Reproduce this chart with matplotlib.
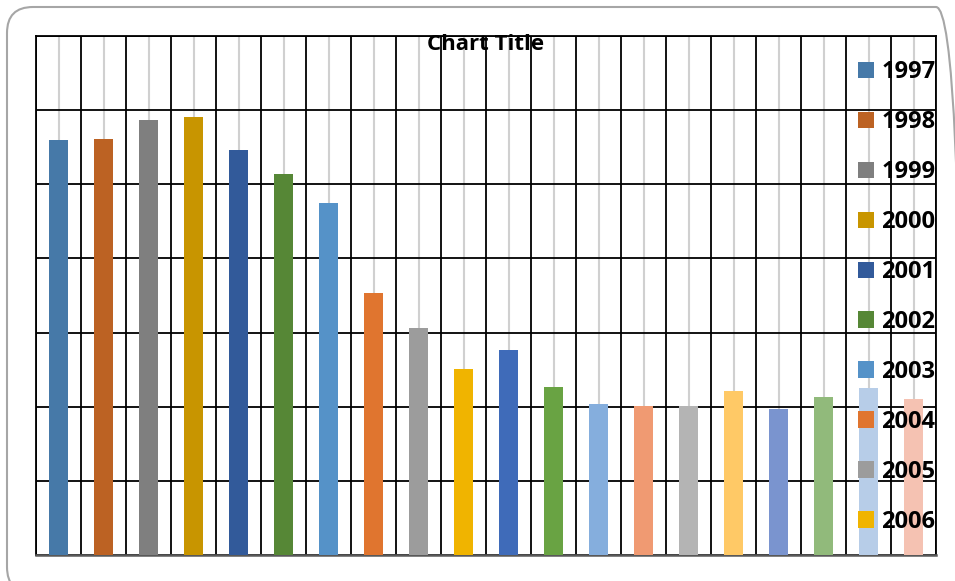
import matplotlib.pyplot as plt
from matplotlib.patches import FancyBboxPatch

years = [str(y) for y in range(1997, 2017)]
values = [56.0, 56.1, 58.7, 59.1, 54.6, 51.4, 47.5, 35.3, 30.6, 25.1,
          27.7, 22.7, 20.4, 20.1, 20.1, 22.1, 19.7, 21.3, 22.5, 21.0]
colors = ["#4679A8", "#BC6223", "#7F7F7F", "#C89500", "#325A9A",
          "#568736", "#5592C8", "#E0752F", "#9C9C9C", "#F0B400",
          "#3F6BB9", "#69A343", "#85AEDD", "#F09A72", "#B4B4B4",
          "#FFC966", "#7A94CF", "#91BA7B", "#B7CDE8", "#F5C2B2"]
legend_count = 10

W, H = 955, 581
fig = plt.figure(figsize=(W / 100, H / 100), dpi=100)

# rounded chart-area frame (runs off the right and bottom edges), in inches
frame = FancyBboxPatch((0.07, -0.12), 9.55, 5.86,
                       boxstyle="round,pad=0,rounding_size=0.26",
                       transform=fig.dpi_scale_trans, facecolor="none",
                       edgecolor="#A6A6A6", linewidth=1.5, zorder=0)
fig.patches.append(frame)

ax = fig.add_axes([36 / W, (H - 555) / H, 900 / W, 519 / H])
ax.set_facecolor("none")

handles = []
for i, (yr, v, c) in enumerate(zip(years, values, colors)):
    b = ax.bar(i, v, width=0.42, color=c, label=yr, zorder=3)
    handles.append(b)

ax.set_xlim(-0.5, len(years) - 0.5)
ax.set_ylim(0, 70)

# grey lines through category centres, black lines on category edges
ax.set_xticks(range(len(years)))
ax.set_xticks([i - 0.5 for i in range(len(years) + 1)], minor=True)
ax.set_yticks(range(0, 71, 10))
ax.grid(axis="x", which="major", color="#D0D0D0", linewidth=1.5, zorder=1)
ax.grid(axis="x", which="minor", color="black", linewidth=1.3, zorder=2)
ax.grid(axis="y", which="major", color="black", linewidth=1.3, zorder=2)
ax.set_axisbelow(True)
ax.tick_params(which="both", length=0, labelbottom=False, labelleft=False)

for side in ("top", "left", "right"):
    ax.spines[side].set_color("black")
    ax.spines[side].set_linewidth(1.3)
ax.spines["bottom"].set_color("#595959")
ax.spines["bottom"].set_linewidth(1.8)

fig.text(486 / W, 1 - 44 / H, "Chart Title", ha="center", va="center",
         fontsize=16, fontweight="bold", family="Open Sans", zorder=5)

leg = fig.legend(handles=handles[:legend_count], labels=years[:legend_count],
                 loc="upper left", bbox_to_anchor=(858 / W, 1 - 60 / H),
                 frameon=False, borderpad=0, borderaxespad=0,
                 handlelength=0.68, handleheight=0.68, handletextpad=0.3,
                 labelspacing=1.10,
                 prop={"family": "Open Sans", "weight": "bold", "size": 17})
leg.set_zorder(10)

fig.savefig("out.png", dpi=100)
